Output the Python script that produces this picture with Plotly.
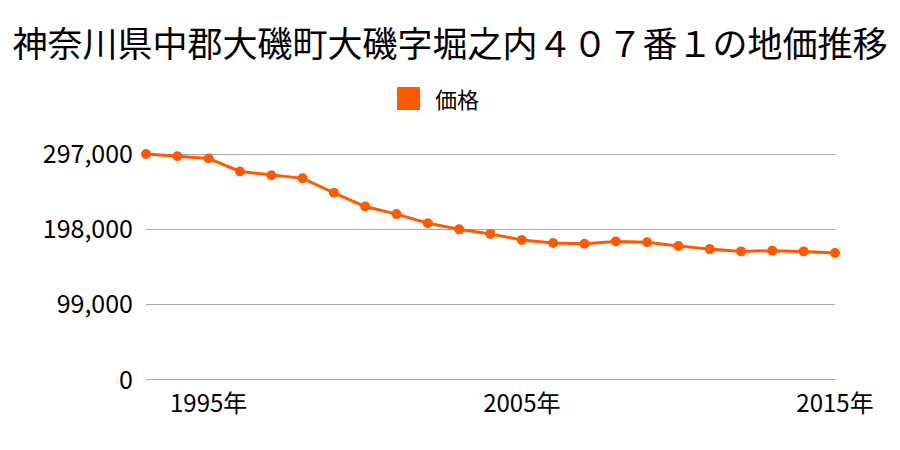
import plotly.graph_objects as go

years = list(range(1993, 2016))
prices = [297000, 294000, 291000, 274000, 269000, 265000, 246000, 228000,
          218000, 206000, 198000, 192000, 184000, 180000, 179000, 182000,
          181000, 176000, 172000, 169000, 170000, 169000, 167000]
y_ticks = [0, 99000, 198000, 297000]
x_ticks = [1995, 2005, 2015]
x_tick_labels = ["1995年", "2005年", "2015年"]
series_name = "価格"
title_text = "神奈川県中郡大磯町大磯字堀之内４０７番１の地価推移"

color = "#FF5A00"
font = "Noto Sans CJK JP"

# plot area (page pixels): left 146, right 835, top 152, bottom 382
L, R, T, B = 146, 835, 152, 382
OFF = 8  # body margin of the page

fig = go.Figure()
fig.add_trace(go.Scatter(
    x=years, y=prices, mode="lines+markers",
    line=dict(color=color, width=3),
    marker=dict(color=color, size=10),
    cliponaxis=False, showlegend=False, name=series_name,
))

fig.add_shape(type="rect", xref="paper", yref="paper",
              x0=(397 - L) / (R - L), x1=(420 - L) / (R - L),
              y0=(B - 110) / (B - T), y1=(B - 87) / (B - T),
              fillcolor=color, line=dict(width=0), layer="above")
fig.add_annotation(text=series_name, xref="paper", yref="paper",
                   x=(433 - L) / (R - L), y=(B - 98) / (B - T),
                   xanchor="left", yanchor="middle", showarrow=False,
                   font=dict(size=22, family=font, color="#000000"))

fig.update_layout(
    width=900, height=450,
    margin=dict(l=L - OFF, r=900 + OFF - R, t=T - OFF, b=450 + OFF - B,
                autoexpand=False),
    paper_bgcolor="white", plot_bgcolor="white",
    font=dict(family=font, color="#000000"),
    title=dict(text=title_text,
               x=(450 - OFF) / 900, xanchor="center",
               y=1 - (45 - OFF) / 450, yanchor="middle",
               font=dict(size=35, family=font, color="#000000")),
    showlegend=False,
    xaxis=dict(range=[1993, 2015], tickvals=x_ticks, ticktext=x_tick_labels,
               showgrid=False, zeroline=False, showline=False,
               tickfont=dict(size=24), ticks="", automargin=False,
               ticklabelstandoff=5),
    yaxis=dict(range=[-2640, 299640], tickvals=y_ticks, tickformat=",",
               showgrid=True, gridcolor="#AAAAAA", gridwidth=1,
               zeroline=False, showline=False, automargin=False,
               tickfont=dict(size=25), ticks="", ticklabelstandoff=12),
)
fig.write_html("out.html")
